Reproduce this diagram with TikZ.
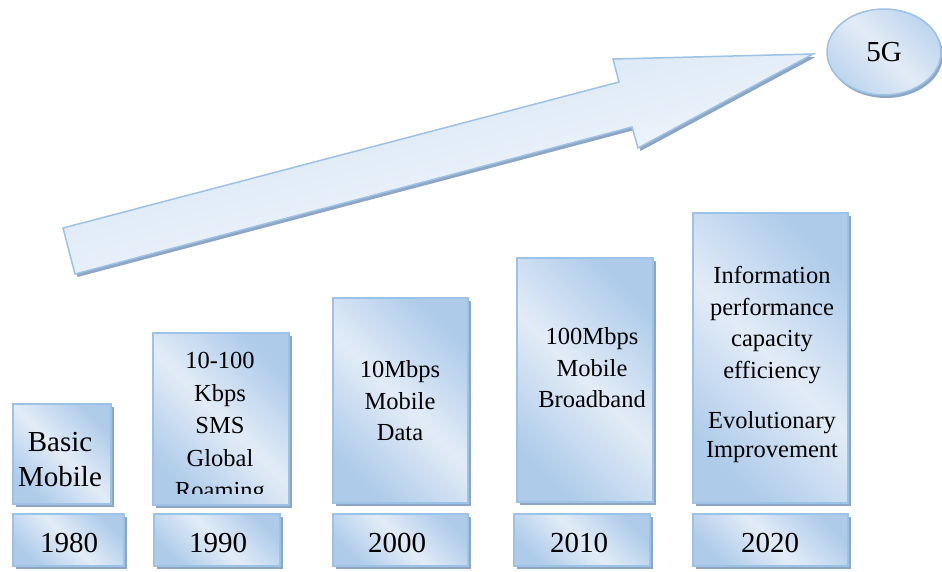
\documentclass[tikz,border=0pt]{standalone}
\usepackage{fontspec}
\setmainfont{Liberation Serif}
\usetikzlibrary{shadows,shapes.geometric}

\definecolor{edgeblue}{HTML}{9CC2E5}
\definecolor{shadeblue}{HTML}{8EA6C4}
\definecolor{deepfill}{HTML}{AECBEA}
\definecolor{palefill}{HTML}{E2ECF7}
\definecolor{tailfill}{HTML}{CCDFF2}

\tikzset{
  panel/.style={rectangle, draw=edgeblue, line width=1.5pt, inner sep=0pt,
    left color=deepfill, right color=deepfill, middle color=palefill, shading angle=-45,
    drop shadow={shadow xshift=3pt, shadow yshift=-3pt, fill=shadeblue, opacity=1}},
  txt/.style={align=center, inner sep=0pt, font=\fontsize{24.5}{31.5}\selectfont},
  yeartxt/.style={inner sep=0pt, font=\fontsize{29}{35}\selectfont},
}

\begin{document}
\begin{tikzpicture}[x=1pt, y=-1pt]
\useasboundingbox (0,0) rectangle (942,571);

% big rising arrow
\path[draw=edgeblue, line width=1.5pt, left color=tailfill, right color=white,
      shading angle=15,
      drop shadow={shadow xshift=2.5pt, shadow yshift=-3pt, fill=shadeblue, opacity=1}]
  (63,228) -- (619,82) -- (613,59) -- (813,54) -- (638,148) -- (632,127) -- (75,274) -- cycle;

% target ellipse
\node[ellipse, draw=edgeblue, line width=1.5pt, minimum width=114pt, minimum height=86pt,
      left color=deepfill!70!palefill, right color=deepfill!70!palefill, middle color=palefill,
      shading angle=-45,
      drop shadow={shadow xshift=2pt, shadow yshift=-3pt, fill=shadeblue, opacity=1},
      font=\fontsize{29}{35}\selectfont] (g5) at (884,52) {5G};

% generation panels
\node[panel, minimum width=98pt,  minimum height=100pt] (p1) at (62,454) {};
\node[panel, minimum width=136pt, minimum height=172pt] (p2) at (221,419) {};
\node[panel, minimum width=135pt, minimum height=205pt] (p3) at (400.5,400.5) {};
\node[panel, minimum width=136pt, minimum height=244pt] (p4) at (585,380) {};
\node[panel, minimum width=155pt, minimum height=290pt] (p5) at (770.5,358) {};

% year panels
\node[panel, minimum width=111pt, minimum height=52pt] (y1) at (68.5,540) {};
\node[panel, minimum width=126pt, minimum height=52pt] (y2) at (217,540) {};
\node[panel, minimum width=135pt, minimum height=52pt] (y3) at (400.5,540) {};
\node[panel, minimum width=136pt, minimum height=52pt] (y4) at (582,540) {};
\node[panel, minimum width=155pt, minimum height=52pt] (y5) at (770.5,540) {};

% panel texts
\node[txt, font=\fontsize{29}{35}\selectfont] (t1) at (60,460) {Basic\\Mobile};
\begin{scope}
  \clip (150,320) rectangle (295,493);
  \node[txt, font=\fontsize{24.5}{32.5}\selectfont] (t2) at (220,428) {10-100\\Kbps\\SMS\\Global\\Roaming};
\end{scope}
\node[txt] (t3) at (400,401) {10Mbps\\Mobile\\Data};
\node[txt] (t4) at (592,368) {100Mbps\\Mobile\\Broadband};
\node[txt] (t5a) at (772,325) {Information\\performance\\capacity\\efficiency};
\node[txt, font=\fontsize{24.5}{29}\selectfont] (t5b) at (772,437) {Evolutionary\\Improvement};

% year texts
\node[yeartxt] (n1) at (69,543) {1980};
\node[yeartxt] (n2) at (218,543) {1990};
\node[yeartxt] (n3) at (397,543) {2000};
\node[yeartxt] (n4) at (579,543) {2010};
\node[yeartxt] (n5) at (770,543) {2020};
\end{tikzpicture}
\end{document}
